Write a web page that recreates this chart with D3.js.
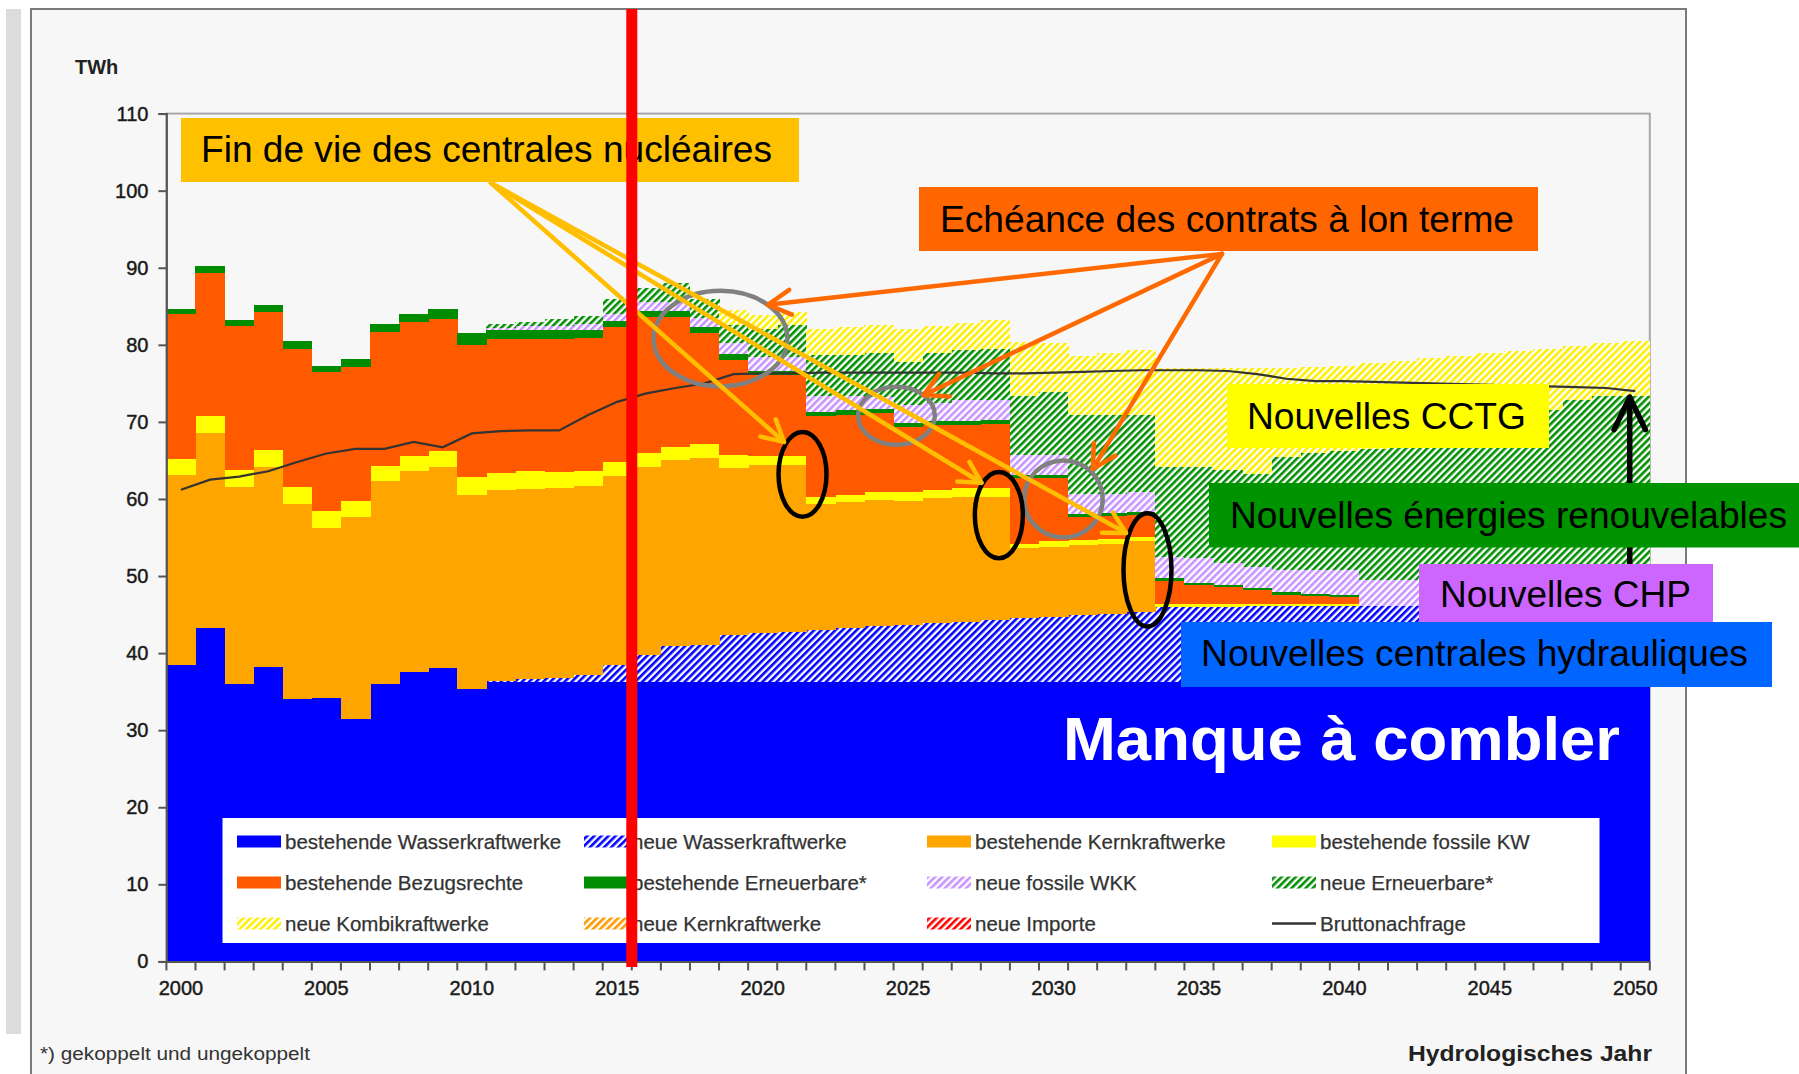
<!DOCTYPE html>
<html><head><meta charset="utf-8">
<script src="https://cdn.jsdelivr.net/npm/d3@7"></script>
<style>
body{margin:0;background:#fff;}
svg{display:block;}
text{font-family:"Liberation Sans",Arial,sans-serif;}
</style>
</head><body>
<script>
// ---------------- DATA (TWh, layer thickness per hydrological year) ----------------
const years = [2000,2001,2002,2003,2004,2005,2006,2007,2008,2009,
  2010,2011,2012,2013,2014,2015,2016,2017,2018,2019,
  2020,2021,2022,2023,2024,2025,2026,2027,2028,2029,
  2030,2031,2032,2033,2034,2035,2036,2037,2038,2039,
  2040,2041,2042,2043,2044,2045,2046,2047,2048,2049,2050];

const wasser = [38.4,43.2,36.0,38.2,34.0,34.2,31.4,36.0,37.5,38.1,
  35.3,36.2,36.3,36.3,36.3,36.3,36.3,36.3,36.3,36.3,
  36.3,36.3,36.3,36.3,36.3,36.3,36.3,36.3,36.3,36.3,
  36.3,36.3,36.3,36.3,36.3,36.3,36.3,36.3,36.3,36.3,
  36.3,36.3,36.3,36.3,36.3,36.3,36.3,36.3,36.3,36.3,36.3];
const neuWasser = [0,0,0,0,0,0,0,0,0,0,
  0,0.2,0.3,0.5,0.9,2.2,3.5,4.6,4.8,6.1,
  6.3,6.5,6.7,6.9,7.2,7.4,7.6,7.8,8.0,8.2,
  8.4,8.6,8.8,9.0,9.7,9.7,9.7,9.8,9.8,9.8,
  9.8,9.8,9.8,9.8,9.8,9.8,9.8,9.8,9.8,9.8,9.8];
const kern = [24.7,25.3,25.6,25.9,25.4,22.0,26.3,26.3,26.1,26.1,
  25.2,24.7,24.7,24.6,24.5,24.5,24.4,24.2,24.2,21.6,
  21.8,21.6,16.3,16.4,16.4,16.1,16.2,16.2,16.0,9.1,
  9.1,9.1,9.0,9.2,0,0,0,0,0,0,
  0,0,0,0,0,0,0,0,0,0,0];
const fossil = [2.1,2.2,2.2,2.2,2.2,2.2,2.1,2.0,2.0,2.0,
  2.3,2.3,2.3,2.1,1.9,1.8,1.7,1.7,1.8,1.7,
  1.2,1.2,1.0,0.9,1.0,1.1,1.1,1.1,1.1,0.6,
  0.7,0.7,0.7,0.6,0.4,0.4,0.4,0.3,0.3,0.3,
  0.3,0,0,0,0,0,0,0,0,0,0];
const bezug = [18.8,18.6,18.7,17.9,17.9,18.1,17.3,17.3,17.3,17.2,
  17.2,17.4,17.2,17.3,17.3,17.5,17.7,16.8,14.4,12.3,
  10.5,10.5,10.4,10.4,10.2,8.5,8.4,8.2,8.3,8.5,
  8.2,3.0,3.0,2.8,3.0,2.4,2.2,1.8,1.2,1.0,
  0.9,0,0,0,0,0,0,0,0,0,0];
const erneu = [0.7,0.9,0.7,1.0,1.0,0.8,1.0,1.1,1.1,1.3,
  1.5,1.1,1.1,1.1,1.0,0.8,0.8,0.8,0.8,0.8,
  0.5,0.5,0.6,0.6,0.6,0.5,0.5,0.5,0.5,0.4,
  0.4,0.4,0.4,0.4,0.3,0.3,0.3,0.3,0.3,0.3,
  0.2,0,0,0,0,0,0,0,0,0,0];
const wkk = [0,0,0,0,0,0,0,0,0,0,
  0,0.3,0.5,0.6,0.8,0.9,1.2,1.2,1.2,1.5,
  1.8,1.8,2.1,1.9,1.5,2.3,2.4,2.7,2.6,2.6,
  2.6,2.6,2.5,2.6,2.8,3.2,2.8,2.7,2.9,3.1,
  3.3,3.4,3.4,3.7,3.9,4.1,4.3,4.5,4.7,4.9,4.9];
const neuErneu = [0,0,0,0,0,0,0,0,0,0,
  0,0.5,0.6,0.8,1.1,1.9,1.8,2.4,2.5,2.3,
  3.6,4.2,5.3,5.3,5.8,5.6,6.4,6.5,6.7,7.6,
  8.2,10.2,10.2,10.0,11.7,11.9,12.1,12.1,14.7,15.2,
  15.4,17.0,17.7,17.8,18.0,18.4,19.1,20.9,22.0,22.3,22.3];
const kombi = [0,0,0,0,0,0,0,0,0,0,
  0,0,0,0,0,0,0,0,0,1.9,
  1.9,1.7,3.4,3.6,3.6,4.3,3.5,3.5,3.7,7.1,
  6.3,7.6,8.0,8.4,12.8,12.8,13.2,13.7,11.5,11.1,
  11.1,11.1,10.7,10.7,10.6,10.3,9.7,8.0,7.0,6.9,7.2];
const demand = [61.2,62.5,62.9,63.6,64.8,65.9,66.5,66.5,67.4,66.7,
  68.5,68.8,68.9,68.9,70.9,72.6,73.7,74.4,75.0,76.2,
  76.3,76.3,76.4,76.4,76.4,76.4,76.4,76.4,76.3,76.3,
  76.4,76.5,76.6,76.7,76.7,76.7,76.6,76.2,75.6,75.3,
  75.3,75.2,75.1,75.0,74.9,74.8,74.7,74.6,74.5,74.4,74.0];

const yTicks = [0,10,20,30,40,50,60,70,80,90,100,110];
const xTickLabels = [2000,2005,2010,2015,2020,2025,2030,2035,2040,2045,2050];

const legendLabels = [
  ["bestehende Wasserkraftwerke","neue Wasserkraftwerke","bestehende Kernkraftwerke","bestehende fossile KW"],
  ["bestehende Bezugsrechte","bestehende Erneuerbare*","neue fossile WKK","neue Erneuerbare*"],
  ["neue Kombikraftwerke","neue Kernkraftwerke","neue Importe","Bruttonachfrage"]
];

// ---------------- SETUP ----------------
const W = 1799, H = 1074;
const svg = d3.select("body").append("svg").attr("width", W).attr("height", H);
const defs = svg.append("defs");
function hatch(id, color){
  const p = defs.append("pattern").attr("id", id).attr("patternUnits","userSpaceOnUse")
    .attr("width",5).attr("height",5).attr("patternTransform","rotate(45)");
  p.append("rect").attr("width",5).attr("height",5).attr("fill","#fff");
  p.append("rect").attr("width",2.6).attr("height",5).attr("fill",color);
}
hatch("hBlue","#0000ff");
hatch("hLilac","#c993ff");
hatch("hGreen","#008f00");
hatch("hYellow","#ffee00");
hatch("hOrange","#ff9900");
hatch("hRed","#ff0000");

const keys = ["wasser","neuWasser","kern","fossil","bezug","erneu","wkk","neuErneu","kombi"];
const series = {wasser, neuWasser, kern, fossil, bezug, erneu, wkk, neuErneu, kombi};
const fills = {wasser:"#0000ff", neuWasser:"url(#hBlue)", kern:"#ffa500", fossil:"#ffff00",
  bezug:"#ff5a00", erneu:"#008c00", wkk:"url(#hLilac)", neuErneu:"url(#hGreen)", kombi:"url(#hYellow)"};

const table = years.map((y,i) => {
  const r = {year:y};
  keys.forEach(k => r[k] = series[k][i]);
  return r;
});

const L = 166.4, R = 1649.8, T = 113.6, B = 961.4;
const x = d3.scaleBand().domain(years).range([L, R]).padding(0);
const bw = x.bandwidth();
const xLin = d3.scaleLinear().domain([2000, 2051]).range([L, R]);
const y = d3.scaleLinear().domain([0, 110]).range([B, T]);

// ---------------- BACKGROUND ----------------
svg.append("rect").attr("x",6).attr("y",9).attr("width",15).attr("height",1025).attr("fill","#dcdcdc");
svg.append("rect").attr("x",31).attr("y",9).attr("width",1655).attr("height",1085)
  .attr("fill","#f7f7f7").attr("stroke","#7a7a7a").attr("stroke-width",2);
svg.append("rect").attr("x",L).attr("y",T).attr("width",R-L).attr("height",B-T)
  .attr("fill","#f7f7f7").attr("stroke","#a8a8a8").attr("stroke-width",2);

// ---------------- STACK ----------------
const stacked = d3.stack().keys(keys)(table);
const gStack = svg.append("g").attr("shape-rendering","crispEdges");
stacked.forEach(s => {
  gStack.append("g").attr("fill", fills[s.key])
    .selectAll("rect").data(s.filter(d => d[1] - d[0] > 0)).join("rect")
    .attr("x", d => x(d.data.year))
    .attr("width", bw + 0.5)
    .attr("y", d => y(d[1]))
    .attr("height", d => y(d[0]) - y(d[1]));
});

// demand line
svg.append("path").datum(years.map((yr,i)=>({year:yr, v:demand[i]})))
  .attr("fill","none").attr("stroke","#333").attr("stroke-width",2.2)
  .attr("d", d3.line().x(d => x(d.year) + bw/2).y(d => y(d.v)));

// ---------------- AXES ----------------
const yAxis = svg.append("g").attr("transform",`translate(${L},0)`)
  .call(d3.axisLeft(y).tickValues(yTicks).tickSize(8).tickPadding(10));
yAxis.select(".domain").attr("stroke","#555").attr("stroke-width",2);
yAxis.selectAll(".tick line").attr("stroke","#555").attr("stroke-width",2);
yAxis.selectAll("text").attr("font-size",20).attr("fill","#1a1a1a")
  .attr("stroke","#1a1a1a").attr("stroke-width",0.45)
  .attr("font-family","'Liberation Sans',Arial,sans-serif");

const xAxis = svg.append("g").attr("transform",`translate(0,${B})`)
  .call(d3.axisBottom(x).tickValues(xTickLabels).tickSize(0).tickPadding(19));
xAxis.select(".domain").attr("stroke","#555").attr("stroke-width",2);
xAxis.selectAll("text").attr("font-size",20).attr("fill","#1a1a1a")
  .attr("stroke","#1a1a1a").attr("stroke-width",0.45)
  .attr("font-family","'Liberation Sans',Arial,sans-serif");
svg.append("g").selectAll("line").data(years.concat([2051])).join("line")
  .attr("x1", d => xLin(d)).attr("x2", d => xLin(d))
  .attr("y1", B).attr("y2", B + 9).attr("stroke","#555").attr("stroke-width",2);

svg.append("text").attr("x",75).attr("y",74).attr("font-size",20).attr("font-weight","bold")
  .attr("fill","#222").text("TWh");
svg.append("text").attr("x",1652).attr("y",1061).attr("text-anchor","end").attr("font-size",22)
  .attr("font-weight","bold").attr("fill","#222").attr("textLength",244)
  .attr("lengthAdjust","spacingAndGlyphs").text("Hydrologisches Jahr");
svg.append("text").attr("x",40).attr("y",1060).attr("font-size",18).attr("fill","#333")
  .attr("textLength",270).attr("lengthAdjust","spacingAndGlyphs").text("*) gekoppelt und ungekoppelt");

// ---------------- LEGEND ----------------
const lg = svg.append("g");
lg.append("rect").attr("x",222.5).attr("y",818).attr("width",1377).attr("height",125).attr("fill","#fff");
const legendFills = [
  ["#0000ff","url(#hBlue)","#ffa500","#ffff00"],
  ["#ff5a00","#008c00","url(#hLilac)","url(#hGreen)"],
  ["url(#hYellow)","url(#hOrange)","url(#hRed)","line"]
];
const colX = [237, 584, 927, 1272], rowY = [841.5, 882.5, 923.5];
legendLabels.forEach((row, ri) => row.forEach((lab, ci) => {
  const f = legendFills[ri][ci];
  if (f === "line") {
    lg.append("line").attr("x1",colX[ci]).attr("x2",colX[ci]+44).attr("y1",rowY[ri]).attr("y2",rowY[ri])
      .attr("stroke","#333").attr("stroke-width",2.5);
  } else {
    lg.append("rect").attr("x",colX[ci]).attr("y",rowY[ri]-6).attr("width",44).attr("height",12).attr("fill",f);
  }
  lg.append("text").attr("x",colX[ci]+48).attr("y",rowY[ri]+7).attr("font-size",20.5)
    .attr("fill","#333").attr("stroke","#333").attr("stroke-width",0.25).text(lab);
}));

// ---------------- TEXT IN BLUE AREA ----------------
svg.append("text").attr("x",1063).attr("y",760).attr("font-size",62).attr("font-weight","bold")
  .attr("fill","#fff").attr("textLength",557).attr("lengthAdjust","spacingAndGlyphs").text("Manque à combler");

// ---------------- ANNOTATIONS ----------------
const ann = svg.append("g");
function arrowLine(x1,y1,x2,y2,color,w,len,ang){
  ann.append("line").attr("x1",x1).attr("y1",y1).attr("x2",x2).attr("y2",y2)
    .attr("stroke",color).attr("stroke-width",w).attr("stroke-linecap","round");
  const a = Math.atan2(y2-y1, x2-x1);
  const p1 = [x2 - len*Math.cos(a-ang), y2 - len*Math.sin(a-ang)];
  const p2 = [x2 - len*Math.cos(a+ang), y2 - len*Math.sin(a+ang)];
  ann.append("path").attr("d",`M${p1}L${x2},${y2}L${p2}`).attr("fill","none")
    .attr("stroke",color).attr("stroke-width",w).attr("stroke-linecap","round").attr("stroke-linejoin","round");
}
// ellipses (positions in data space: year, TWh)
const grayEll = [[2019.05,80.8,2.3,6.2],[2025.1,70.8,1.32,3.76],[2030.84,60.0,1.35,5.0]];
const blackEll = [[2021.87,63.2,0.825,5.5],[2028.62,57.9,0.825,5.6],[2033.73,50.8,0.825,7.35]];
grayEll.forEach(e => ann.append("ellipse").attr("cx",xLin(e[0])).attr("cy",y(e[1]))
  .attr("rx",xLin(e[0]+e[2])-xLin(e[0])).attr("ry",y(e[1]-e[3])-y(e[1]))
  .attr("fill","none").attr("stroke","#808080").attr("stroke-width",4.5));
blackEll.forEach(e => ann.append("ellipse").attr("cx",xLin(e[0])).attr("cy",y(e[1]))
  .attr("rx",xLin(e[0]+e[2])-xLin(e[0])).attr("ry",y(e[1]-e[3])-y(e[1]))
  .attr("fill","none").attr("stroke","#000").attr("stroke-width",4.5));

// yellow arrows (nuclear end of life)
const yOrig = [2011.16, 101.0];
[[2021.23,67.4],[2028.02,62.1],[2032.99,55.6]].forEach(t =>
  arrowLine(xLin(yOrig[0]),y(yOrig[1]),xLin(t[0]),y(t[1]),"#ffbf00",4.5,24,0.5));
// orange arrows (contracts)
const oOrig = [2036.29, 91.8];
[[2020.68,85.2],[2026.04,73.5],[2031.85,63.9]].forEach(t =>
  arrowLine(xLin(oOrig[0]),y(oOrig[1]),xLin(t[0]),y(t[1]),"#ff6a00",4.5,26,0.5));
// black vertical arrow
arrowLine(xLin(2050.31), y(46.9), xLin(2050.31), y(73.2), "#000", 5.5, 36, 0.45);

// label boxes
const notes = [
  {t:"Fin de vie des centrales nucléaires", x:181, y:118, w:618, h:64, fill:"#FFC000", tx:201, ty:162, tl:571},
  {t:"Echéance des contrats à lon terme", x:919, y:187, w:619, h:64, fill:"#FF6600", tx:940, ty:231.5, tl:574},
  {t:"Nouvelles CCTG", x:1227, y:384, w:322, h:64, fill:"#FFFF00", tx:1247, ty:429, tl:279},
  {t:"Nouvelles énergies renouvelables", x:1209, y:483, w:590, h:64.5, fill:"#009300", tx:1230, ty:528, tl:557},
  {t:"Nouvelles CHP", x:1419, y:564, w:294, h:59, fill:"#CC66FF", tx:1440, ty:607, tl:251},
  {t:"Nouvelles centrales hydrauliques", x:1181, y:622, w:591, h:65, fill:"#0066FF", tx:1201, ty:666, tl:547}
];
notes.forEach(n => {
  ann.append("rect").attr("x",n.x).attr("y",n.y).attr("width",n.w).attr("height",n.h).attr("fill",n.fill);
  ann.append("text").attr("x",n.tx).attr("y",n.ty).attr("font-size",36).attr("fill","#000")
    .attr("textLength",n.tl).attr("lengthAdjust","spacingAndGlyphs").text(n.t);
});

// red vertical line (today)
svg.append("line").attr("x1",xLin(2016)).attr("x2",xLin(2016)).attr("y1",9).attr("y2",967)
  .attr("stroke","#ff0000").attr("stroke-width",11);
</script>
</body></html>
